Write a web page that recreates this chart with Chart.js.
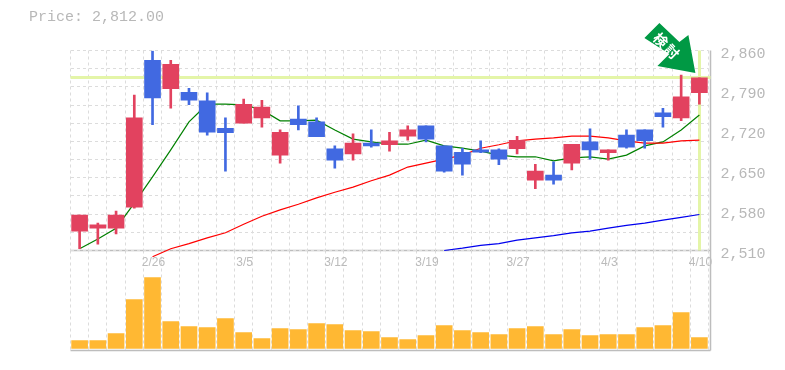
<!DOCTYPE html>
<html>
<head>
<meta charset="utf-8">
<style>
  body { margin: 0; background: #fff; }
  #wrap { position: relative; width: 785px; height: 370px; overflow: hidden; }
  #wrap canvas { position: absolute; left: 0; top: 0; }
  #price { position: absolute; left: 29px; top: 9px; font: 15px "Liberation Mono", monospace; color: #b8b8b8; }
</style>
<script src="https://cdn.jsdelivr.net/npm/chart.js@4"></script>
</head>
<body>
<div id="wrap">
  <canvas id="volChart" width="785" height="370"></canvas>
  <canvas id="priceChart" width="785" height="370"></canvas>
  <div id="price">Price: 2,812.00</div>
</div>
<script>
const dates = ['2/20','2/21','2/22','2/23','2/26','2/27','2/28','3/1','3/2','3/5','3/6','3/7','3/8','3/9','3/12','3/13','3/14','3/15','3/16','3/19','3/20','3/22','3/23','3/26','3/27','3/28','3/29','3/30','4/2','4/3','4/4','4/5','4/6','4/9','4/10'];
const shownDates = ['2/26','3/5','3/12','3/19','3/27','4/3','4/10'];
const priceTicks = [2510,2580,2650,2720,2790,2860];
const lastPrice = 2812;

const opens  = [2544,2549,2549,2586,2843,2793,2787,2772,2724,2733,2742,2677,2740,2735,2688,2679,2698,2695,2710,2728,2693,2682,2686,2686,2688,2633,2642,2663,2700,2681,2712,2721,2751,2742,2786];
const closes = [2572,2555,2572,2742,2777,2836,2773,2717,2716,2766,2761,2717,2730,2709,2668,2698,2693,2702,2721,2705,2649,2661,2682,2670,2703,2649,2633,2696,2686,2686,2691,2702,2744,2779,2812];
const highs  = [2572,2558,2579,2782,2859,2843,2794,2786,2742,2775,2773,2721,2763,2742,2693,2714,2721,2717,2728,2728,2693,2689,2702,2688,2710,2661,2665,2696,2723,2686,2721,2721,2759,2817,2812];
const lows   = [2513,2521,2539,2584,2730,2759,2765,2712,2649,2733,2726,2663,2721,2709,2654,2668,2691,2684,2703,2700,2647,2642,2681,2660,2679,2618,2626,2651,2670,2668,2689,2689,2726,2737,2766];

const maShort = [2513,2530,2549,2593,2639,2686,2735,2766,2766,2765,2756,2737,2737,2738,2721,2705,2700,2696,2696,2703,2693,2689,2684,2677,2674,2674,2667,2672,2674,2670,2677,2693,2700,2721,2747];
const maMid   = [null,null,null,null,2499,2513,2522,2532,2541,2556,2570,2581,2591,2602,2612,2621,2632,2642,2656,2663,2670,2677,2689,2695,2702,2705,2707,2710,2710,2707,2702,2698,2698,2702,2703];
const maLong  = [null,null,null,null,null,null,null,null,null,null,null,null,null,null,null,null,null,null,null,null,2510,2514,2519,2522,2528,2532,2536,2541,2544,2549,2554,2558,2563,2568,2573];

const volumes = [80,80,150,490,710,270,220,210,300,160,100,200,190,250,240,180,170,110,90,130,230,180,160,140,200,220,140,190,130,140,140,210,230,360,110];

const UP = '#e2425f', DOWN = '#4169e1', GRID = '#dcdcdc', AXIS = '#bdbdbd', MARK = '#e4f5a8';
const candleColors = opens.map((o, i) => closes[i] >= o ? UP : DOWN);
const yMin = priceTicks[0], yMax = priceTicks[priceTicks.length - 1];

const vGrid = { color: GRID, offset: true, drawTicks: false };
const noBorder = { display: false, dash: [3, 3] };

// yellow-green marks for the last price and last day, behind the candles
const priceMarks = {
  id: 'priceMarks',
  beforeDatasetsDraw(chart) {
    const { ctx, chartArea: a, scales } = chart;
    const y = scales.y.getPixelForValue(lastPrice);
    const x = scales.x.getPixelForValue(dates.length - 1);
    ctx.save();
    ctx.fillStyle = MARK;
    ctx.fillRect(a.left, Math.round(y) - 2, a.right - a.left + 2, 3);
    ctx.fillRect(Math.round(x) - 1, a.top, 3, a.bottom - a.top);
    ctx.restore();
  }
};

// green arrow pointing at the last candle
const arrow = {
  id: 'arrow',
  afterDraw(chart) {
    const { ctx, scales } = chart;
    const tx = scales.x.getPixelForValue(dates.length - 1) - 4;
    const ty = scales.y.getPixelForValue(lastPrice) - 5;
    ctx.save();
    ctx.translate(tx, ty);
    ctx.fillStyle = '#009944';
    ctx.beginPath();
    [[0,0],[-38,-7],[-26,-19],[-51,-35],[-36,-50],[-16,-31],[-7,-38]].forEach((p, i) => i ? ctx.lineTo(p[0], p[1]) : ctx.moveTo(p[0], p[1]));
    ctx.closePath();
    ctx.fill();
    ctx.translate(-29, -27);
    ctx.rotate(Math.PI / 4);
    ctx.fillStyle = '#fff';
    ctx.font = 'bold 14px "Noto Sans CJK JP"';
    ctx.textAlign = 'center';
    ctx.textBaseline = 'middle';
    ctx.fillText('検', -8, 0);
    ctx.fillText('討', 8, 0);
    ctx.restore();
  }
};

new Chart(document.getElementById('priceChart'), {
  data: {
    labels: dates,
    datasets: [
      { type: 'line', data: maShort, borderColor: '#008000', borderWidth: 1.2, pointRadius: 0, order: 5, clip: false },
      { type: 'line', data: maMid, borderColor: '#ff0000', borderWidth: 1.2, pointRadius: 0, order: 4, clip: false },
      { type: 'line', data: maLong, borderColor: '#0000ee', borderWidth: 1.2, pointRadius: 0, order: 3, clip: false },
      { type: 'bar', data: lows.map((l, i) => [l, highs[i]]), backgroundColor: candleColors, barThickness: 2, grouped: false, order: 2 },
      { type: 'bar', data: opens.map((o, i) => [o, closes[i]]), backgroundColor: candleColors, barThickness: 16, grouped: false, order: 1 }
    ]
  },
  options: {
    responsive: false,
    animation: false,
    events: [],
    devicePixelRatio: 1,
    layout: { padding: { top: 50.5, bottom: 99.5, left: 0, right: 0 } },
    plugins: { legend: { display: false }, tooltip: { enabled: false } },
    scales: {
      x: {
        offset: true,
        grid: vGrid,
        border: noBorder,
        afterFit(s) { s.height = 20; },
        ticks: {
          autoSkip: false, maxRotation: 0, padding: 5, labelOffset: 1, color: '#bbb',
          font: { family: '"Liberation Sans"', size: 12 },
          callback(v) { const d = this.getLabelForValue(v); return shownDates.includes(d) ? d : ''; }
        }
      },
      y: {
        min: yMin, max: yMax,
        position: 'left',
        grid: { color: GRID, drawTicks: false },
        border: noBorder,
        ticks: { display: false },
        afterFit(s) { s.width = 70.5; },
        afterBuildTicks(s) {
          const t = [];
          for (let i = 0; i <= 11; i++) t.push({ value: yMin + (yMax - yMin) * i / 11 });
          s.ticks = t;
        }
      },
      yr: {
        min: yMin, max: yMax,
        position: 'right',
        grid: { display: false, drawTicks: false },
        border: { display: false },
        afterFit(s) { s.width = 76.5; },
        afterBuildTicks(s) { s.ticks = priceTicks.map(v => ({ value: v })); },
        ticks: {
          padding: 12, labelOffset: 4, color: '#b8b8b8',
          font: { family: '"Liberation Mono"', size: 15 },
          callback(v) { return v.toLocaleString('en-US'); }
        }
      }
    }
  },
  plugins: [priceMarks, arrow]
});

// solid frame lines sit on the lower chart
const frame = {
  id: 'frame',
  afterDraw(chart) {
    const { ctx, chartArea: a } = chart;
    ctx.save();
    ctx.strokeStyle = AXIS;
    ctx.lineWidth = 1.5;
    ctx.beginPath();
    ctx.moveTo(a.left, a.top);
    ctx.lineTo(a.right + 2, a.top);
    ctx.moveTo(a.left, a.bottom);
    ctx.lineTo(a.right + 2, a.bottom);
    ctx.moveTo(a.right + 2, a.top - 200);
    ctx.lineTo(a.right + 2, a.bottom);
    ctx.stroke();
    ctx.restore();
  }
};

new Chart(document.getElementById('volChart'), {
  type: 'bar',
  data: {
    labels: dates,
    datasets: [{ data: volumes, backgroundColor: '#ffb833', barThickness: 16 }]
  },
  options: {
    responsive: false,
    animation: false,
    events: [],
    devicePixelRatio: 1,
    layout: { padding: { top: 250.5, bottom: 19.5, left: 70.5, right: 76.5 } },
    plugins: { legend: { display: false }, tooltip: { enabled: false } },
    scales: {
      x: {
        offset: true,
        grid: vGrid,
        border: noBorder,
        afterFit(s) { s.height = 0; },
        ticks: { display: false, autoSkip: false }
      },
      y: { display: false, min: -20, max: 980 }
    }
  },
  plugins: [frame]
});
</script>
</body>
</html>
